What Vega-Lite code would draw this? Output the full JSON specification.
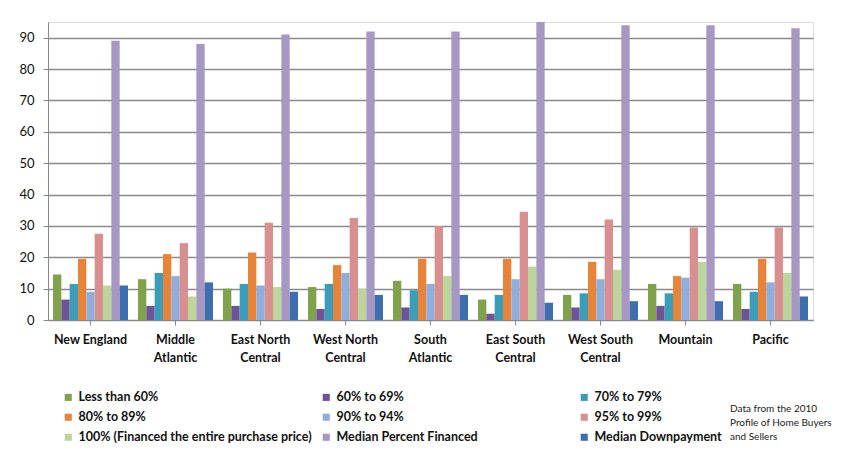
{
  "$schema": "https://vega.github.io/schema/vega-lite/v6.json",
  "autosize": {"type": "none"},
  "padding": {"left": 48, "top": 22, "right": 38, "bottom": 134},
  "width": 765,
  "height": 298,
  "background": "white",
  "title": {
    "text": ["Data from the 2010", "Profile of Home Buyers", "and Sellers"],
    "orient": "bottom",
    "anchor": "end",
    "align": "left",
    "frame": "group",
    "fontSize": 10,
    "fontWeight": "normal",
    "font": "Lato",
    "color": "#222222",
    "lineHeight": 14,
    "dx": -83,
    "dy": -54,
    "offset": 0
  },
  "data": {
    "values": [
      {"region": "New England", "series": "Less than 60%", "value": 14.5},
      {"region": "New England", "series": "60% to 69%", "value": 6.5},
      {"region": "New England", "series": "70% to 79%", "value": 11.5},
      {"region": "New England", "series": "80% to 89%", "value": 19.5},
      {"region": "New England", "series": "90% to 94%", "value": 9},
      {"region": "New England", "series": "95% to 99%", "value": 27.5},
      {"region": "New England", "series": "100% (Financed the entire purchase price)", "value": 11},
      {"region": "New England", "series": "Median Percent Financed", "value": 89},
      {"region": "New England", "series": "Median Downpayment", "value": 11},
      {"region": "Middle Atlantic", "series": "Less than 60%", "value": 13},
      {"region": "Middle Atlantic", "series": "60% to 69%", "value": 4.5},
      {"region": "Middle Atlantic", "series": "70% to 79%", "value": 15},
      {"region": "Middle Atlantic", "series": "80% to 89%", "value": 21},
      {"region": "Middle Atlantic", "series": "90% to 94%", "value": 14},
      {"region": "Middle Atlantic", "series": "95% to 99%", "value": 24.5},
      {"region": "Middle Atlantic", "series": "100% (Financed the entire purchase price)", "value": 7.5},
      {"region": "Middle Atlantic", "series": "Median Percent Financed", "value": 88},
      {"region": "Middle Atlantic", "series": "Median Downpayment", "value": 12},
      {"region": "East North Central", "series": "Less than 60%", "value": 10},
      {"region": "East North Central", "series": "60% to 69%", "value": 4.5},
      {"region": "East North Central", "series": "70% to 79%", "value": 11.5},
      {"region": "East North Central", "series": "80% to 89%", "value": 21.5},
      {"region": "East North Central", "series": "90% to 94%", "value": 11},
      {"region": "East North Central", "series": "95% to 99%", "value": 31},
      {"region": "East North Central", "series": "100% (Financed the entire purchase price)", "value": 10.5},
      {"region": "East North Central", "series": "Median Percent Financed", "value": 91},
      {"region": "East North Central", "series": "Median Downpayment", "value": 9},
      {"region": "West North Central", "series": "Less than 60%", "value": 10.5},
      {"region": "West North Central", "series": "60% to 69%", "value": 3.5},
      {"region": "West North Central", "series": "70% to 79%", "value": 11.5},
      {"region": "West North Central", "series": "80% to 89%", "value": 17.5},
      {"region": "West North Central", "series": "90% to 94%", "value": 15},
      {"region": "West North Central", "series": "95% to 99%", "value": 32.5},
      {"region": "West North Central", "series": "100% (Financed the entire purchase price)", "value": 10},
      {"region": "West North Central", "series": "Median Percent Financed", "value": 92},
      {"region": "West North Central", "series": "Median Downpayment", "value": 8},
      {"region": "South Atlantic", "series": "Less than 60%", "value": 12.5},
      {"region": "South Atlantic", "series": "60% to 69%", "value": 4},
      {"region": "South Atlantic", "series": "70% to 79%", "value": 9.5},
      {"region": "South Atlantic", "series": "80% to 89%", "value": 19.5},
      {"region": "South Atlantic", "series": "90% to 94%", "value": 11.5},
      {"region": "South Atlantic", "series": "95% to 99%", "value": 30},
      {"region": "South Atlantic", "series": "100% (Financed the entire purchase price)", "value": 14},
      {"region": "South Atlantic", "series": "Median Percent Financed", "value": 92},
      {"region": "South Atlantic", "series": "Median Downpayment", "value": 8},
      {"region": "East South Central", "series": "Less than 60%", "value": 6.5},
      {"region": "East South Central", "series": "60% to 69%", "value": 2},
      {"region": "East South Central", "series": "70% to 79%", "value": 8},
      {"region": "East South Central", "series": "80% to 89%", "value": 19.5},
      {"region": "East South Central", "series": "90% to 94%", "value": 13},
      {"region": "East South Central", "series": "95% to 99%", "value": 34.5},
      {"region": "East South Central", "series": "100% (Financed the entire purchase price)", "value": 17},
      {"region": "East South Central", "series": "Median Percent Financed", "value": 95},
      {"region": "East South Central", "series": "Median Downpayment", "value": 5.5},
      {"region": "West South Central", "series": "Less than 60%", "value": 8},
      {"region": "West South Central", "series": "60% to 69%", "value": 4},
      {"region": "West South Central", "series": "70% to 79%", "value": 8.5},
      {"region": "West South Central", "series": "80% to 89%", "value": 18.5},
      {"region": "West South Central", "series": "90% to 94%", "value": 13},
      {"region": "West South Central", "series": "95% to 99%", "value": 32},
      {"region": "West South Central", "series": "100% (Financed the entire purchase price)", "value": 16},
      {"region": "West South Central", "series": "Median Percent Financed", "value": 94},
      {"region": "West South Central", "series": "Median Downpayment", "value": 6},
      {"region": "Mountain", "series": "Less than 60%", "value": 11.5},
      {"region": "Mountain", "series": "60% to 69%", "value": 4.5},
      {"region": "Mountain", "series": "70% to 79%", "value": 8.5},
      {"region": "Mountain", "series": "80% to 89%", "value": 14},
      {"region": "Mountain", "series": "90% to 94%", "value": 13.5},
      {"region": "Mountain", "series": "95% to 99%", "value": 29.5},
      {"region": "Mountain", "series": "100% (Financed the entire purchase price)", "value": 18.5},
      {"region": "Mountain", "series": "Median Percent Financed", "value": 94},
      {"region": "Mountain", "series": "Median Downpayment", "value": 6},
      {"region": "Pacific", "series": "Less than 60%", "value": 11.5},
      {"region": "Pacific", "series": "60% to 69%", "value": 3.5},
      {"region": "Pacific", "series": "70% to 79%", "value": 9},
      {"region": "Pacific", "series": "80% to 89%", "value": 19.5},
      {"region": "Pacific", "series": "90% to 94%", "value": 12},
      {"region": "Pacific", "series": "95% to 99%", "value": 29.5},
      {"region": "Pacific", "series": "100% (Financed the entire purchase price)", "value": 15},
      {"region": "Pacific", "series": "Median Percent Financed", "value": 93},
      {"region": "Pacific", "series": "Median Downpayment", "value": 7.5}
    ]
  },
  "mark": {"type": "bar"},
  "encoding": {
    "x": {
      "field": "region",
      "type": "nominal",
      "sort": null,
      "scale": {"paddingInner": 0, "paddingOuter": 0},
      "axis": {
        "title": null,
        "labelAngle": 0,
        "labelFont": "Lato",
        "labelFontSize": 12.5,
        "labelFontWeight": "bold",
        "labelColor": "#111111",
        "labelPadding": 8,
        "labelLineHeight": 18,
        "labelExpr": "datum.value == 'Middle Atlantic' ? ['Middle', 'Atlantic'] : datum.value == 'East North Central' ? ['East North', 'Central'] : datum.value == 'West North Central' ? ['West North', 'Central'] : datum.value == 'South Atlantic' ? ['South', 'Atlantic'] : datum.value == 'East South Central' ? ['East South', 'Central'] : datum.value == 'West South Central' ? ['West South', 'Central'] : datum.value",
        "tickSize": 5,
        "tickColor": "#888888",
        "domainColor": "#888888",
        "grid": false
      }
    },
    "xOffset": {
      "field": "series",
      "type": "nominal",
      "sort": ["Less than 60%", "60% to 69%", "70% to 79%", "80% to 89%", "90% to 94%", "95% to 99%", "100% (Financed the entire purchase price)", "Median Percent Financed", "Median Downpayment"],
      "scale": {"paddingInner": 0, "paddingOuter": 0.6}
    },
    "y": {
      "field": "value",
      "type": "quantitative",
      "scale": {"domain": [0, 95], "nice": false},
      "axis": {
        "title": null,
        "values": [0, 10, 20, 30, 40, 50, 60, 70, 80, 90],
        "labelFont": "Lato",
        "labelFontSize": 13,
        "labelColor": "#111111",
        "labelPadding": 9,
        "tickSize": 5,
        "tickColor": "#888888",
        "domainColor": "#888888",
        "gridColor": "#8a8a8a",
        "gridWidth": 1.3
      }
    },
    "color": {
      "field": "series",
      "type": "nominal",
      "scale": {
        "domain": ["Less than 60%", "60% to 69%", "70% to 79%", "80% to 89%", "90% to 94%", "95% to 99%", "100% (Financed the entire purchase price)", "Median Percent Financed", "Median Downpayment"],
        "range": ["#80A24A", "#6E5496", "#3C9DB8", "#E8843A", "#90AEDB", "#D7908F", "#BCD59B", "#A797C3", "#3D6FAF"]
      },
      "legend": {
        "title": null,
        "orient": "bottom",
        "columns": 3,
        "gridAlign": "all",
        "columnPadding": 8,
        "rowPadding": 7,
        "padding": 14,
        "offset": 13,
        "labelLimit": 300,
        "symbolType": "square",
        "symbolSize": 50,
        "labelFont": "Lato",
        "labelFontSize": 12.5,
        "labelFontWeight": "bold",
        "labelColor": "#111111"
      }
    }
  }
}
